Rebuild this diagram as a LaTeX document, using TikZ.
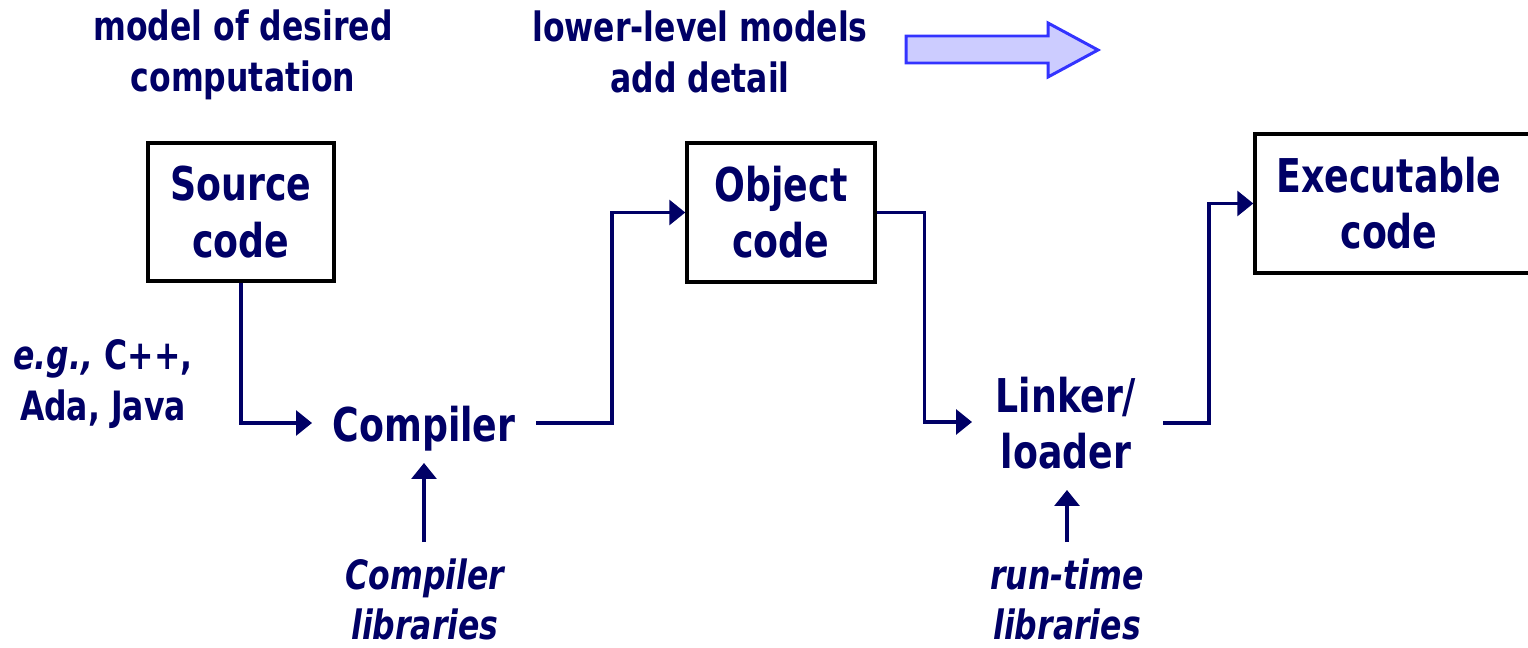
\documentclass[tikz,border=0pt]{standalone}
\usepackage{fontspec}
\setmainfont{DejaVu Sans}[FakeStretch=0.78]
\usetikzlibrary{arrows.meta}
\definecolor{navy}{HTML}{000066}
\definecolor{arrowfill}{HTML}{CCCCFF}
\definecolor{arrowline}{HTML}{3333FF}
\begin{document}
\begin{tikzpicture}[x=0.02cm,y=-0.02cm,
  lbl/.style={text=navy, font=\bfseries\fontsize{23}{29}\selectfont, align=center, inner sep=0pt},
  big/.style={text=navy, font=\bfseries\fontsize{26.5}{32}\selectfont, align=center, inner sep=0pt},
  note/.style={text=navy, font=\bfseries\itshape\fontsize{23}{28.5}\selectfont, align=center, inner sep=0pt},
  codebox/.style={draw=black, line width=2pt, inner sep=0pt},
  conn/.style={draw=navy, line width=1.8pt, -{Triangle[length=0.32cm,width=0.5cm]}},
  blockarrow/.style={draw=arrowline, fill=arrowfill, line width=1.7pt, line join=miter}
]
\useasboundingbox (0,0) rectangle (1528,648);
\fill[white] (0,0) rectangle (1528,648);
\clip (0,0) rectangle (1528,648);

% top labels
\node[lbl] (model) at (243,55) {model of desired\\computation};
\node[lbl] (lower) at (700,52) {lower-level models\\add detail};
\draw[blockarrow] (906,36) -- (1048,36) -- (1048,23) -- (1098,50) -- (1048,77) -- (1048,63) -- (906,63) -- cycle;

% boxes
\node[codebox, big, minimum width=3.72cm, minimum height=2.76cm] (src) at (241,212) {Source\\code};
\node[codebox, big, minimum width=3.76cm, minimum height=2.78cm] (obj) at (781,212.5) {Object\\code};
\node[codebox, minimum width=5.8cm, minimum height=2.78cm] (exec) at (1400,203.5) {};
\node[big] (execlabel) at (1389,203) {Executable\\code};

% tools
\node[big] (compiler) at (424,429) {Compiler};
\node[big] (linker) at (1066,423) {Linker/\\loader};

% notes
\node[lbl] (eg) at (103,384) {\textit{e.g.,} C++,\\Ada, Java};
\node[note] (complib) at (425,599) {Compiler\\libraries};
\node[note] (runtime) at (1067,599) {run-time\\libraries};

% connector ends
\coordinate (c-in) at (312,423);
\coordinate (c-out) at (536,423);
\coordinate (l-in) at (972,422);
\coordinate (l-out) at (1163,423);
\coordinate (cl-top) at (424,463);
\coordinate (cl-bot) at (424,542);
\coordinate (rt-top) at (1067,490);
\coordinate (rt-bot) at (1067,542);

\draw[conn] (src.south) |- (c-in);
\draw[conn] (c-out) -- ++(76,0) |- (obj.west);
\draw[conn] (obj.east) -- ++(48,0) |- (l-in);
\draw[conn] (l-out) -- ++(46,0) |- (exec.west);
\draw[conn] (cl-bot) -- (cl-top);
\draw[conn] (rt-bot) -- (rt-top);
\end{tikzpicture}
\end{document}
